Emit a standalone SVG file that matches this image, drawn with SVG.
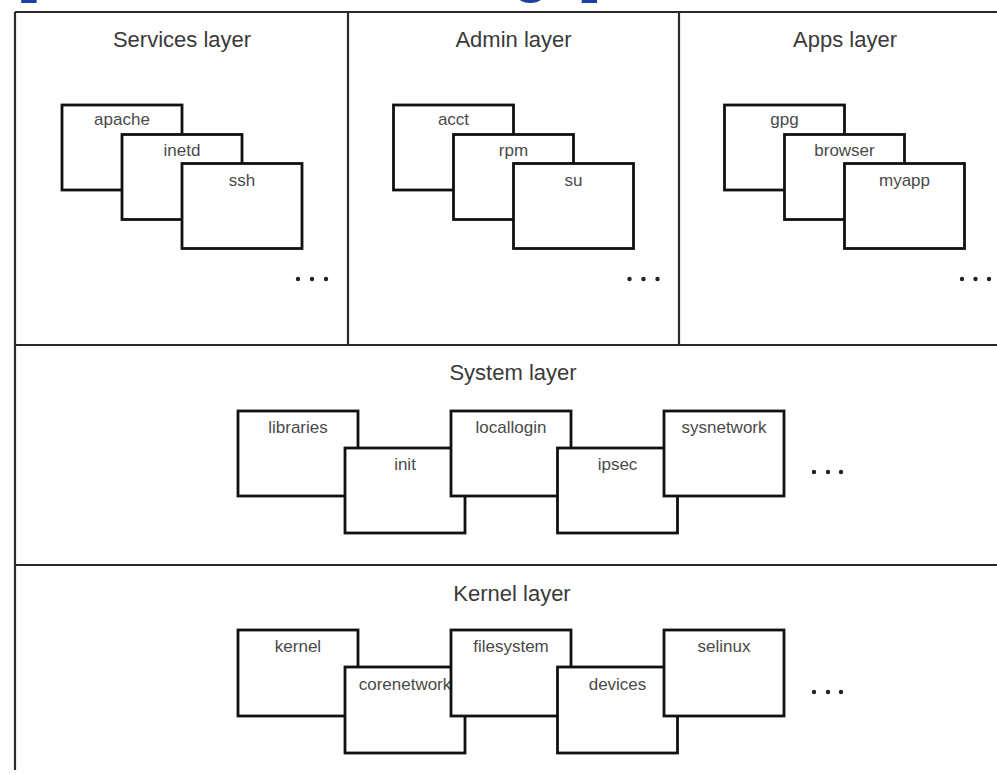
<svg xmlns="http://www.w3.org/2000/svg" width="997" height="775" viewBox="0 0 997 775">
<style>
.frame{stroke:#2a2a2a;stroke-width:2.2;fill:none}
.box{fill:#fff;stroke:#111;stroke-width:2.8}
.title{font-family:"Liberation Sans",Arial,sans-serif;font-size:22px;fill:#3a3a3a;text-anchor:middle}
.lbl{font-family:"Liberation Sans",Arial,sans-serif;font-size:17px;fill:#4a4a4a;text-anchor:middle}
.dot{fill:#222}
.cap{font-family:"Liberation Sans",Arial,sans-serif;font-size:58px;font-weight:bold;fill:#1d3f9f}
</style>
<rect width="997" height="775" fill="#fff"/>
<text class="cap" x="18" y="-9">[View full size image]</text>

<g id="frame-lines">
<line class="frame" x1="15" y1="12" x2="997" y2="12"/>
<line class="frame" x1="15" y1="12" x2="15" y2="770"/>
<line class="frame" x1="348" y1="12" x2="348" y2="345"/>
<line class="frame" x1="679" y1="12" x2="679" y2="345"/>
<line class="frame" x1="15" y1="345" x2="997" y2="345"/>
<line class="frame" x1="15" y1="565" x2="997" y2="565"/>
</g>

<g id="services-layer">
<text class="title" x="182" y="47">Services layer</text>
<g id="apache"><rect class="box" x="62" y="105" width="120" height="85"/><text class="lbl" x="122" y="125">apache</text></g>
<g id="inetd"><rect class="box" x="122" y="134.5" width="120" height="85"/><text class="lbl" x="182" y="156">inetd</text></g>
<g id="ssh"><rect class="box" x="182" y="163.5" width="120" height="85"/><text class="lbl" x="242" y="186">ssh</text></g>
<g id="services-more"><circle class="dot" cx="298" cy="279" r="2.2"/><circle class="dot" cx="312" cy="279" r="2.2"/><circle class="dot" cx="326" cy="279" r="2.2"/></g>
</g>

<g id="admin-layer">
<text class="title" x="513.5" y="47">Admin layer</text>
<g id="acct"><rect class="box" x="393.5" y="105" width="120" height="85"/><text class="lbl" x="453.5" y="125">acct</text></g>
<g id="rpm"><rect class="box" x="453.5" y="134.5" width="120" height="85"/><text class="lbl" x="513.5" y="156">rpm</text></g>
<g id="su"><rect class="box" x="513.5" y="163.5" width="120" height="85"/><text class="lbl" x="573.5" y="186">su</text></g>
<g id="admin-more"><circle class="dot" cx="629.5" cy="279" r="2.2"/><circle class="dot" cx="643.5" cy="279" r="2.2"/><circle class="dot" cx="657.5" cy="279" r="2.2"/></g>
</g>

<g id="apps-layer">
<text class="title" x="845" y="47">Apps layer</text>
<g id="gpg"><rect class="box" x="724.5" y="105" width="120" height="85"/><text class="lbl" x="784.5" y="125">gpg</text></g>
<g id="browser"><rect class="box" x="784.5" y="134.5" width="120" height="85"/><text class="lbl" x="844.5" y="156">browser</text></g>
<g id="myapp"><rect class="box" x="844.5" y="163.5" width="120" height="85"/><text class="lbl" x="904.5" y="186">myapp</text></g>
<g id="apps-more"><circle class="dot" cx="962" cy="279" r="2.2"/><circle class="dot" cx="975.5" cy="279" r="2.2"/><circle class="dot" cx="989" cy="279" r="2.2"/></g>
</g>

<g id="system-layer">
<text class="title" x="513" y="380">System layer</text>
<g id="libraries"><rect class="box" x="238" y="411" width="120" height="85"/><text class="lbl" x="298" y="433">libraries</text></g>
<g id="init"><rect class="box" x="345" y="448" width="120" height="85"/><text class="lbl" x="405" y="470">init</text></g>
<g id="locallogin"><rect class="box" x="451" y="411" width="120" height="85"/><text class="lbl" x="511" y="433">locallogin</text></g>
<g id="ipsec"><rect class="box" x="557.5" y="448" width="120" height="85"/><text class="lbl" x="617.5" y="470">ipsec</text></g>
<g id="sysnetwork"><rect class="box" x="664" y="411" width="120" height="85"/><text class="lbl" x="724" y="433">sysnetwork</text></g>
<g id="system-more"><circle class="dot" cx="814" cy="472" r="2.2"/><circle class="dot" cx="828" cy="472" r="2.2"/><circle class="dot" cx="841" cy="472" r="2.2"/></g>
</g>

<g id="kernel-layer">
<text class="title" x="512" y="601">Kernel layer</text>
<g id="kernel"><rect class="box" x="238" y="630" width="120" height="86"/><text class="lbl" x="298" y="652">kernel</text></g>
<g id="corenetwork"><rect class="box" x="345" y="667" width="120" height="86"/><text class="lbl" x="405" y="690">corenetwork</text></g>
<g id="filesystem"><rect class="box" x="451" y="630" width="120" height="86"/><text class="lbl" x="511" y="652">filesystem</text></g>
<g id="devices"><rect class="box" x="557.5" y="667" width="120" height="86"/><text class="lbl" x="617.5" y="690">devices</text></g>
<g id="selinux"><rect class="box" x="664" y="630" width="120" height="86"/><text class="lbl" x="724" y="652">selinux</text></g>
<g id="kernel-more"><circle class="dot" cx="814" cy="692" r="2.2"/><circle class="dot" cx="828" cy="692" r="2.2"/><circle class="dot" cx="841" cy="692" r="2.2"/></g>
</g>
</svg>
